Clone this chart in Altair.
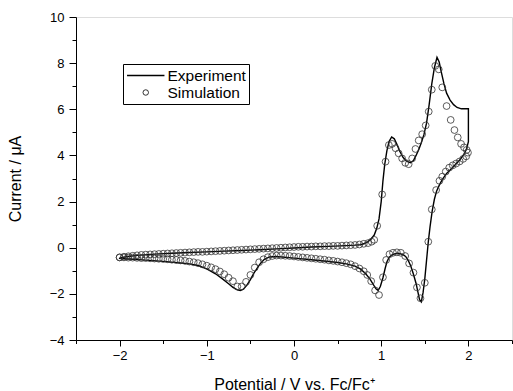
import altair as alt
import pandas as pd

# Experiment (solid line), traced in sweep order
exp_x = [-2.0, -1.9, -1.8, -1.6, -1.4, -1.2, -1.0, -0.8, -0.6, -0.4, -0.2, 0.0, 0.2, 0.4, 0.6, 0.7, 0.76,
         0.8, 0.84, 0.88, 0.92, 0.95, 0.975, 1.0, 1.02, 1.04, 1.065, 1.09, 1.12, 1.15, 1.18, 1.21, 1.25,
         1.29, 1.335, 1.37, 1.4, 1.43, 1.46, 1.49, 1.52, 1.55, 1.58, 1.61, 1.64, 1.665, 1.69, 1.72, 1.75,
         1.79, 1.83, 1.87, 1.92, 2.0, 2.0, 1.98, 1.95, 1.9, 1.83, 1.75, 1.7, 1.665, 1.635, 1.61, 1.585,
         1.56, 1.54, 1.52, 1.5, 1.48, 1.46, 1.44, 1.42, 1.4, 1.37, 1.34, 1.31, 1.28, 1.25, 1.2, 1.16, 1.12,
         1.09, 1.065, 1.045, 1.02, 0.99, 0.965, 0.94, 0.91, 0.87, 0.82, 0.76, 0.7, 0.6, 0.5, 0.4, 0.2, 0.0,
         -0.2, -0.28, -0.34, -0.38, -0.42, -0.46, -0.5, -0.54, -0.58, -0.615, -0.65, -0.7, -0.75, -0.82,
         -0.9, -1.0, -1.1, -1.2, -1.3, -1.5, -1.7, -1.9, -2.0, -2.0]
exp_y = [-0.44, -0.38, -0.33, -0.28, -0.24, -0.21, -0.18, -0.15, -0.12, -0.09, -0.05, -0.01, 0.03, 0.06,
         0.09, 0.11, 0.13, 0.17, 0.24, 0.36, 0.55, 0.85, 1.25, 2.0, 2.9, 3.6, 4.2, 4.6, 4.8, 4.72, 4.48,
         4.2, 3.92, 3.75, 3.68, 3.78, 4.0, 4.25, 4.55, 4.9, 5.4, 6.2, 7.1, 7.8, 8.25, 8.05, 7.6, 7.1, 6.7,
         6.4, 6.2, 6.08, 6.02, 6.02, 4.6, 4.3, 4.05, 3.8, 3.52, 3.22, 2.95, 2.7, 2.45, 2.1, 1.6, 0.9, 0.25,
         -0.55, -1.35, -1.95, -2.35, -2.25, -1.9, -1.55, -1.15, -0.8, -0.55, -0.38, -0.3, -0.24, -0.26,
         -0.32, -0.42, -0.62, -0.9, -1.3, -1.68, -1.85, -1.78, -1.6, -1.35, -1.12, -0.92, -0.8, -0.7,
         -0.64, -0.6, -0.52, -0.45, -0.38, -0.4, -0.5, -0.66, -0.87, -1.1, -1.38, -1.62, -1.8, -1.86,
         -1.83, -1.72, -1.56, -1.35, -1.13, -0.92, -0.77, -0.7, -0.66, -0.59, -0.54, -0.49, -0.46, -0.44]

# Simulation (open circles), forward sweep
sim_fwd_x = [-2.0, -1.95, -1.9, -1.85, -1.8, -1.75, -1.7, -1.65, -1.6, -1.55, -1.5, -1.45, -1.4, -1.35,
             -1.3, -1.25, -1.2, -1.15, -1.1, -1.05, -1.0, -0.95, -0.9, -0.85, -0.8, -0.75, -0.7, -0.65,
             -0.6, -0.55, -0.5, -0.45, -0.4, -0.35, -0.3, -0.25, -0.2, -0.15, -0.1, -0.05, 0.0, 0.05,
             0.1, 0.15, 0.2, 0.25, 0.3, 0.35, 0.4, 0.45, 0.5, 0.55, 0.6, 0.65, 0.7, 0.75, 0.8, 0.85,
             0.89, 0.92, 0.954, 1.011, 1.05, 1.088, 1.126, 1.165, 1.2, 1.24, 1.276, 1.315, 1.355, 1.393,
             1.43, 1.47, 1.51, 1.545, 1.58, 1.62, 1.66, 1.7, 1.75, 1.797, 1.84, 1.878, 1.916, 1.95, 1.98,
             1.995]
sim_fwd_y = [-0.42, -0.39, -0.37, -0.35, -0.33, -0.31, -0.3, -0.29, -0.28, -0.27, -0.26, -0.25, -0.24,
             -0.23, -0.22, -0.21, -0.2, -0.19, -0.18, -0.18, -0.17, -0.16, -0.15, -0.14, -0.13, -0.12,
             -0.11, -0.1, -0.09, -0.08, -0.07, -0.06, -0.05, -0.04, -0.03, -0.02, -0.01, 0.0, 0.01, 0.02,
             0.03, 0.04, 0.04, 0.05, 0.05, 0.06, 0.06, 0.07, 0.07, 0.08, 0.08, 0.09, 0.1, 0.11, 0.12,
             0.14, 0.17, 0.2, 0.26, 0.34, 0.95, 2.31, 3.73, 4.45, 4.5, 4.31, 4.09, 3.87, 3.68, 3.62, 3.87,
             4.28, 4.65, 4.92, 5.3, 5.9, 6.85, 7.88, 7.73, 6.95, 6.14, 5.54, 5.1, 4.78, 4.5, 4.35, 4.24,
             4.12]

# Simulation, reverse sweep
sim_rev_x = [1.975, 1.94, 1.9, 1.86, 1.82, 1.78, 1.74, 1.7, 1.668, 1.63, 1.58, 1.54, 1.5, 1.45, 1.41,
             1.37, 1.32, 1.275, 1.225, 1.18, 1.135, 1.095, 1.057, 1.02, 0.975, 0.93, 0.885, 0.84, 0.8,
             0.75, 0.7, 0.65, 0.6, 0.55, 0.5, 0.45, 0.4, 0.35, 0.3, 0.25, 0.2, 0.15, 0.1, 0.05, 0.0,
             -0.05, -0.1, -0.15, -0.2, -0.25, -0.3, -0.35, -0.4, -0.45, -0.5, -0.55, -0.6, -0.65, -0.7,
             -0.75, -0.8, -0.85, -0.9, -0.95, -1.0, -1.05, -1.1, -1.15, -1.2, -1.25, -1.3, -1.35, -1.4,
             -1.45, -1.5, -1.55, -1.6, -1.65, -1.7, -1.75, -1.8, -1.85, -1.9, -1.95, -2.0]
sim_rev_y = [3.96, 3.85, 3.74, 3.65, 3.57, 3.47, 3.3, 3.08, 2.9, 2.5, 1.66, 0.26, -1.52, -2.19, -1.72,
             -1.08, -0.68, -0.36, -0.22, -0.2, -0.22, -0.28, -0.53, -1.28, -2.05, -1.85, -1.45, -1.18,
             -1.02, -0.9, -0.8, -0.72, -0.67, -0.63, -0.6, -0.57, -0.55, -0.52, -0.5, -0.48, -0.46, -0.44,
             -0.42, -0.4, -0.38, -0.36, -0.35, -0.34, -0.34, -0.36, -0.41, -0.5, -0.63, -0.86, -1.18,
             -1.48, -1.68, -1.68, -1.45, -1.3, -1.15, -1.03, -0.93, -0.85, -0.78, -0.72, -0.67, -0.63,
             -0.6, -0.57, -0.55, -0.53, -0.52, -0.5, -0.49, -0.48, -0.47, -0.46, -0.45, -0.45, -0.44,
             -0.43, -0.43, -0.42, -0.42]

series_names = ["Experiment", "Simulation"]
x_major = [-2, -1, 0, 1, 2]
x_minor = [-2.5, -1.5, -0.5, 0.5, 1.5, 2.5]
y_major = [-4, -2, 0, 2, 4, 6, 8, 10]
y_minor = [-3, -1, 1, 3, 5, 7, 9]

exp_df = pd.DataFrame({"x": exp_x, "y": exp_y, "i": list(range(len(exp_x)))})
sim_df = pd.DataFrame({"x": sim_fwd_x + sim_rev_x, "y": sim_fwd_y + sim_rev_y})
sim_df["series"] = "Simulation"

FONT = "Liberation Sans"
xs = alt.Scale(domain=[-2.5, 2.5], nice=False, zero=False)
ys = alt.Scale(domain=[-4, 10], nice=False, zero=False)

line = alt.Chart(exp_df).mark_line(color="black", strokeWidth=1.4).encode(
    x=alt.X("x:Q", scale=xs, axis=alt.Axis(
        values=x_major, tickSize=6, tickColor="black", domainColor="black", labelColor="black",
        labelFont=FONT, labelFontSize=13, labelPadding=3, grid=False, orient="bottom",
        title="Potential / V vs. Fc/Fc\u207a", titleFont=FONT, titleFontSize=16,
        titleFontWeight="normal", titleColor="black", titlePadding=14, format="d")),
    y=alt.Y("y:Q", scale=ys, axis=alt.Axis(
        values=y_major, tickSize=7, tickColor="black", domainColor="black", labelColor="black",
        labelFont=FONT, labelFontSize=13, labelPadding=5, grid=False, orient="left",
        title="Current / \u03bcA", titleFont=FONT, titleFontSize=16,
        titleFontWeight="normal", titleColor="black", titlePadding=26, format="d")),
    order="i:Q",
)

pts = alt.Chart(sim_df).mark_point(filled=False, color="#333333", size=46, strokeWidth=0.8,
                                    opacity=1).encode(
    x=alt.X("x:Q", scale=xs, axis=alt.Axis(
        values=x_minor, tickSize=3.5, tickColor="black", labels=False, domain=False,
        grid=False, title=None, orient="bottom")),
    y=alt.Y("y:Q", scale=ys, axis=alt.Axis(
        values=y_minor, tickSize=4, tickColor="black", labels=False, domain=False,
        grid=False, title=None, orient="left")),
    shape=alt.Shape("series:N",
                    scale=alt.Scale(domain=series_names, range=["stroke", "circle"]),
                    legend=alt.Legend(
                        title=None, orient="none", legendX=47, legendY=47,
                        strokeColor="black", padding=3, labelFont=FONT, labelFontSize=15.5,
                        labelColor="black",
                        symbolSize=alt.ExprRef("datum.value === 'Experiment' ? 1400 : 30"),
                        symbolStrokeWidth=alt.ExprRef("datum.value === 'Experiment' ? 1.5 : 0.8"),
                        symbolStrokeColor="black",
                        clipHeight=17, symbolOffset=12, labelOffset=14, rowPadding=0,
                    )),
)

chart = alt.layer(line, pts).resolve_axis(x="independent", y="independent").properties(
    width=436, height=323,
    autosize=alt.AutoSizeParams(type="none"),
    padding={"left": 76, "top": 17, "right": 1, "bottom": 51},
).configure_view(stroke=None).configure(background="white")

chart.save("out.html", embed_options={"renderer": "svg", "actions": False})
